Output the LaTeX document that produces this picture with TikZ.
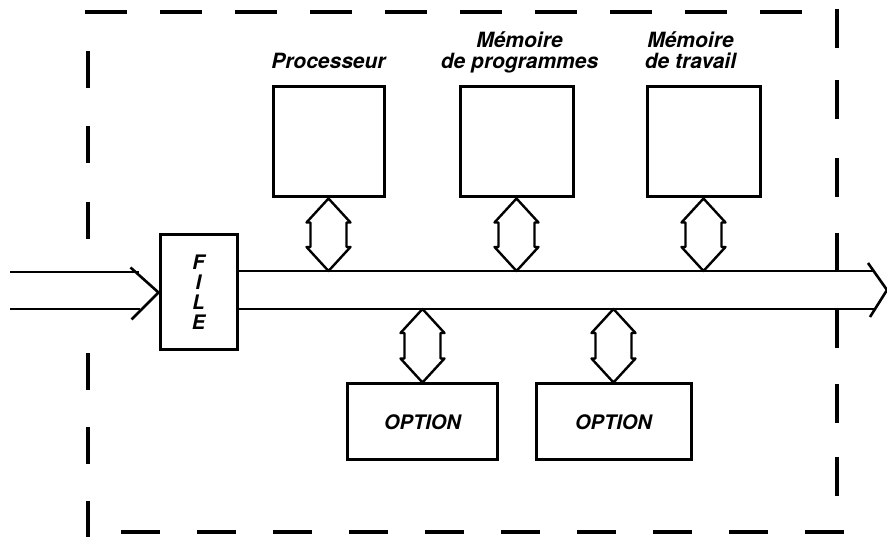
\documentclass[tikz,border=0pt]{standalone}
\usepackage{fontspec}
\newfontfamily\helv{TeX Gyre Heros}
\usetikzlibrary{positioning, calc}

% hollow double arrow, #1 = top point, #2 = bottom point
\newcommand{\dblarrow}[2]{%
  \draw[link] (#1) -- ++(-22,-24) -- ++(4,0) -- ($(#2)+(-18,24)$) -- ++(-4,0)
    -- (#2) -- ++(22,24) -- ++(-4,0) -- ($(#1)+(18,-24)$) -- ++(4,0) -- cycle;
}

\begin{document}
\begin{tikzpicture}[
    x=1pt, y=1pt,
    every node/.style={font=\helv\bfseries\itshape\fontsize{20}{21}\selectfont},
    unit/.style={draw, line width=3pt, minimum width=111, minimum height=110, inner sep=0pt},
    opt/.style={draw, line width=3pt, minimum width=150, minimum height=76, inner sep=0pt},
    lbl/.style={inner sep=0pt, align=center, text depth=0pt,
                font=\helv\bfseries\itshape\fontsize{21}{21}\selectfont},
    frame/.style={line width=3.5pt},
    bus/.style={line width=2.6pt},
    link/.style={line width=2.4pt, line join=round},
]
    \useasboundingbox (0,0) rectangle (887,537);

    % cadre en tirets
    \foreach \x in {85,160,...,760} \draw[frame] (\x,525) -- ++(42,0);
    \foreach \x in {121,197,...,805} \draw[frame] (\x,5) -- ++(39,0);
    \foreach \y in {51,126,202,353,427,501} \draw[frame] (88,{537-\y}) -- ++(0,-37);
    \foreach \y in {9,80,158,233,309,384,457} \draw[frame] (837,{537-\y}) -- ++(0,-39);

    % blocs
    \node[draw, line width=3pt, minimum width=77, minimum height=115, inner sep=0pt,
          align=center, font=\helv\bfseries\itshape\fontsize{20}{20}\selectfont]
          (file) at (198.5,244.5) {F\\I\\L\\E};
    \node[unit] (proc) at (328.5,395) {};
    \node[unit, minimum width=113] (prog) at (516.5,395) {};
    \node[unit, minimum width=113] (trav) at (703.5,395) {};
    \node[opt] (opt1) at (422.5,115) {OPTION};
    \node[opt, minimum width=155] (opt2) at (613.5,115) {OPTION};

    % titres
    \node[lbl, above=17pt of proc] {Processeur};
    \node[lbl, above=17pt of prog, xshift=3pt] {Mémoire\\de programmes};
    \node[lbl, above=17pt of trav, xshift=-13pt] {Mémoire\\de travail};

    % entree
    \coordinate (inA) at (10,265);
    \coordinate (inB) at (10,228);
    \draw[bus] (inA) -- ++(129,0);
    \draw[bus] (inB) -- ++(130,0);
    \draw[bus] ($(file.west)+(-28,25)$) -- (file.west) -- ++(-27,-27);

    % bus
    \coordinate (busA) at (874,266);
    \coordinate (busB) at (874,228);
    \coordinate (tip) at (887,247);
    \draw[bus] (file.east |- busA) -- (busA);
    \draw[bus] (file.east |- busB) -- (busB);
    \draw[bus] ($(tip)+(-19,27)$) -- (tip) -- ++(-17,-27);

    % liaisons
    \dblarrow{proc.south}{proc.south |- busA}
    \dblarrow{prog.south}{prog.south |- busA}
    \dblarrow{trav.south}{trav.south |- busA}
    \dblarrow{opt1.north |- busB}{opt1.north}
    \dblarrow{opt2.north |- busB}{opt2.north}

\end{tikzpicture}
\end{document}
